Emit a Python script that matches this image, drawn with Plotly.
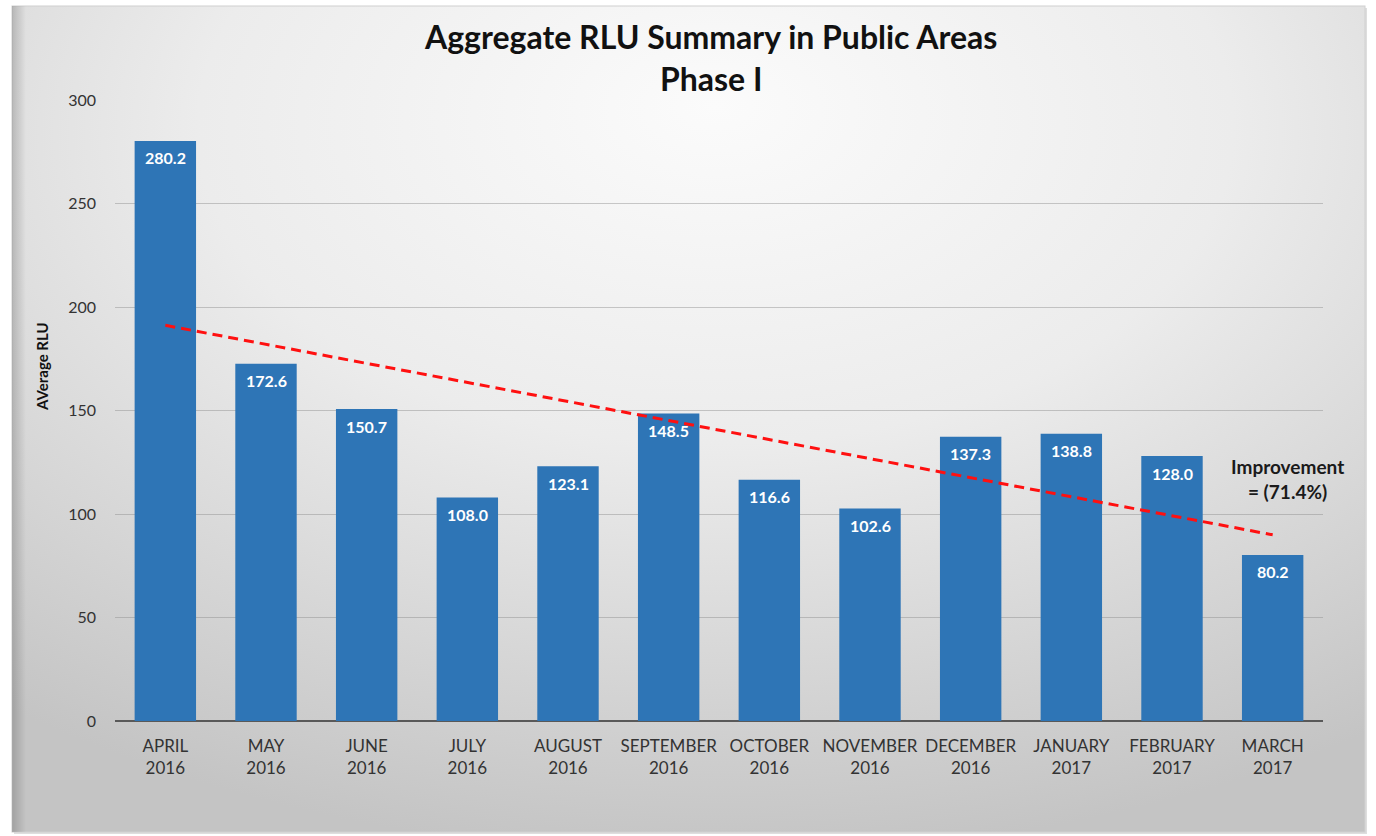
import base64
import numpy as np
import plotly.graph_objects as go

months = ["APRIL<br>2016", "MAY<br>2016", "JUNE<br>2016", "JULY<br>2016", "AUGUST<br>2016",
          "SEPTEMBER<br>2016", "OCTOBER<br>2016", "NOVEMBER<br>2016", "DECEMBER<br>2016",
          "JANUARY<br>2017", "FEBRUARY<br>2017", "MARCH<br>2017"]
avg_rlu = [280.2, 172.6, 150.7, 108.0, 123.1, 148.5, 116.6, 102.6, 137.3, 138.8, 128.0, 80.2]
y_ticks = [0, 50, 100, 150, 200, 250, 300]

W, H = 1376, 836
ML, MR, MT, MB = 115, 53, 100, 115
PW, PH = W - ML - MR, H - MT - MB
FONT = "Lato, Open Sans, sans-serif"

# linear trend across the months
idx = np.arange(len(avg_rlu))
slope, intercept = np.polyfit(idx, avg_rlu, 1)
trend = slope * idx + intercept

# framed, shaded background panel
svg = f"""<svg xmlns='http://www.w3.org/2000/svg' width='{W}' height='{H}' viewBox='0 0 {W} {H}'>
<defs>
<radialGradient id='g' cx='52%' cy='18%' r='85%' fx='52%' fy='12%'>
<stop offset='0' stop-color='#fbfbfb'/>
<stop offset='0.45' stop-color='#ececec'/>
<stop offset='1' stop-color='#c4c4c4'/>
</radialGradient>
<linearGradient id='s' x1='0' x2='1' y1='0' y2='0'>
<stop offset='0' stop-color='#000' stop-opacity='0.18'/>
<stop offset='1' stop-color='#000' stop-opacity='0'/>
</linearGradient>
</defs>
<rect x='0' y='0' width='{W}' height='{H}' fill='#ffffff'/>
<rect x='14' y='8' width='1353' height='826' fill='#bdbdbd' opacity='0.5'/>
<rect x='12' y='6' width='1353' height='826' fill='url(#g)' stroke='#d0d0d0' stroke-width='1'/>
<rect x='12' y='6' width='14' height='826' fill='url(#s)'/>
</svg>"""
bg_src = "data:image/svg+xml;base64," + base64.b64encode(svg.encode()).decode()


def px_to_paper_y(py):
    return (MT + PH - py) / PH


fig = go.Figure()
fig.add_trace(go.Bar(
    x=months, y=avg_rlu,
    marker=dict(color="#2E75B6", line=dict(width=0)),
    showlegend=False,
))
fig.add_trace(go.Scatter(
    x=months, y=trend, mode="lines",
    line=dict(color="#FF1010", width=3, dash="10px,6px"),
    showlegend=False, hoverinfo="skip",
))

# value labels just inside the top of each bar
for m, v in zip(months, avg_rlu):
    fig.add_annotation(
        x=m, y=v, xref="x", yref="y", yanchor="middle", yshift=-17,
        text=f"{v:.1f}", showarrow=False,
        font=dict(family=FONT, size=16, color="white", weight="bold"),
    )

fig.add_annotation(
    x=1.0, xref="paper", y=117, yref="y", xanchor="center", yanchor="middle",
    xshift=-36,
    text="Improvement<br>= (71.4%)", showarrow=False, align="center",
    font=dict(family=FONT, size=19, color="#1a1a1a", weight="bold"),
)

# chart title
fig.add_annotation(
    x=(710 - ML) / PW, xref="paper", y=px_to_paper_y(58), yref="paper",
    xanchor="center", yanchor="middle",
    text="Aggregate RLU Summary in Public Areas<br>Phase I", showarrow=False, align="center",
    font=dict(family=FONT, size=32, color="#111111", weight="bold"),
)

# vertical axis title
fig.add_annotation(
    x=-(ML - 42) / PW, xref="paper", y=px_to_paper_y(367), yref="paper",
    xanchor="center", yanchor="middle", textangle=-90,
    text="AVerage RLU", showarrow=False,
    font=dict(family=FONT, size=15, color="#111111", weight="bold"),
)

fig.add_layout_image(dict(
    source=bg_src, xref="paper", yref="paper",
    x=-ML / PW, y=(PH + MT) / PH, sizex=W / PW, sizey=H / PH,
    xanchor="left", yanchor="top", sizing="stretch", layer="below",
))

fig.update_layout(
    width=W, height=H,
    margin=dict(l=ML, r=MR, t=MT, b=MB),
    paper_bgcolor="white", plot_bgcolor="rgba(0,0,0,0)",
    bargap=0.39,
    font=dict(family=FONT, color="#333333"),
    xaxis=dict(
        showgrid=False, zeroline=False, showline=False,
        tickfont=dict(size=17, color="#333333"), ticks="", ticklabelstandoff=13,
    ),
    yaxis=dict(
        range=[0, 300], tickvals=y_ticks, showgrid=True,
        gridcolor="rgba(140,140,140,0.45)", gridwidth=1,
        zeroline=True, zerolinecolor="#595959", zerolinewidth=2,
        tickfont=dict(size=16, color="#333333"), ticks="", ticklabelstandoff=18,
    ),
)

fig.write_html("out.html")
